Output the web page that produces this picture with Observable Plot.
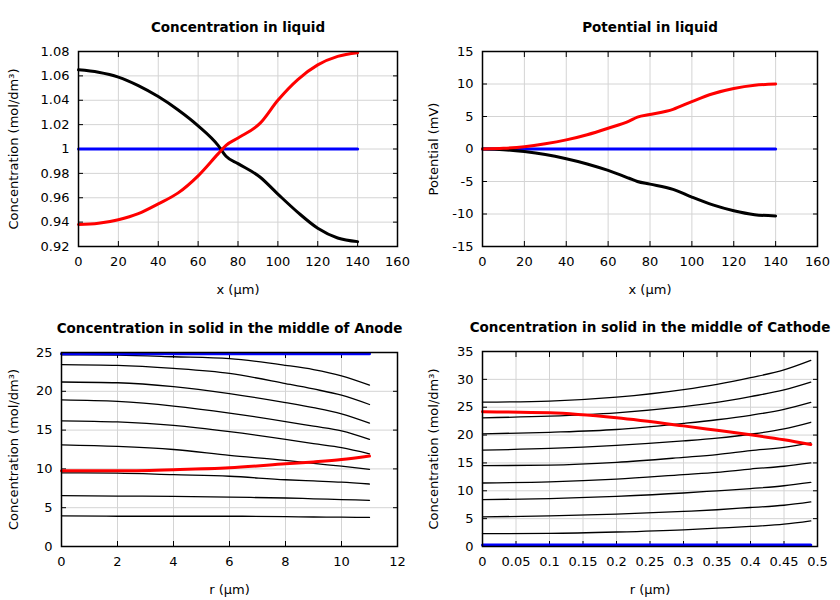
<!DOCTYPE html>
<html><head><meta charset="utf-8">
<script src="https://cdn.jsdelivr.net/npm/d3@7"></script>
<script src="https://cdn.jsdelivr.net/npm/@observablehq/plot@0.6"></script>
<style>
body{margin:0;background:#fff;}
#wrap{position:relative;width:840px;height:600px;font-family:"DejaVu Sans",sans-serif;}
#wrap svg{position:absolute;}
</style></head><body><div id="wrap"></div>
<script>
// ---------- Panel 1: Concentration in liquid ----------
const xLiquid = [0,10,20,30,40,50,60,70,74,80,91,100,110,120,130,140];
const concLiquidBlack = [1.065,1.063,1.059,1.052,1.043,1.032,1.019,1.003,0.994,0.988,0.977,0.963,0.948,0.935,0.927,0.924];
const concLiquidRed   = [0.938,0.939,0.942,0.947,0.955,0.964,0.978,0.996,1.003,1.009,1.021,1.040,1.057,1.069,1.076,1.079];
const concLiquidBlue  = [1,1,1,1,1,1,1,1,1,1,1,1,1,1,1,1];
const xTicksLiquid = [0,20,40,60,80,100,120,140,160];
const yTicksConc = [0.92,0.94,0.96,0.98,1,1.02,1.04,1.06,1.08];

// ---------- Panel 2: Potential in liquid ----------
const potRed   = [0,0.1,0.35,0.8,1.4,2.2,3.2,4.3,4.9,5.3,6.1,7.3,8.5,9.3,9.8,10.0];
const potBlack = [0,-0.1,-0.4,-0.85,-1.5,-2.3,-3.3,-4.5,-5.0,-5.4,-6.2,-7.4,-8.6,-9.5,-10.1,-10.3];
const potBlue  = [0,0,0,0,0,0,0,0,0,0,0,0,0,0,0,0];
const yTicksPot = [-15,-10,-5,0,5,10,15];

// ---------- Panel 3: Concentration in solid, anode ----------
const rAnode = [0,2,4,6,8,9,10,11];
const anodeBlack = [
  [24.7,24.65,24.45,24.2,23.35,22.8,22.0,20.8],
  [23.45,23.35,22.95,22.3,21.0,20.3,19.5,18.3],
  [21.2,21.1,20.6,19.7,18.55,17.9,17.1,15.9],
  [18.9,18.7,18.1,17.2,16.1,15.5,14.9,13.8],
  [16.2,16.05,15.6,14.8,13.8,13.25,12.75,11.95],
  [13.1,12.9,12.5,11.75,11.1,10.7,10.35,9.95],
  [9.5,9.45,9.25,9.05,8.6,8.45,8.3,8.05],
  [6.55,6.5,6.45,6.35,6.25,6.15,6.05,5.95],
  [3.95,3.9,3.9,3.9,3.85,3.8,3.78,3.75]
];
const anodeRed  = [9.75,9.75,9.9,10.15,10.65,10.9,11.2,11.65];
const anodeBlue = [24.85,24.85,24.85,24.85,24.85,24.85,24.85,24.85];
const xTicksAnode = [0,2,4,6,8,10,12];
const yTicksAnode = [0,5,10,15,20,25];

// ---------- Panel 4: Concentration in solid, cathode ----------
const rCathode = [0,0.1,0.2,0.3,0.35,0.4,0.45,0.49];
const cathodeBlack = [
  [2.3,2.35,2.6,3.0,3.3,3.6,4.0,4.6],
  [5.3,5.5,5.8,6.3,6.6,7.0,7.4,8.0],
  [8.4,8.6,9.0,9.6,10.0,10.4,10.9,11.5],
  [11.4,11.6,12.1,12.9,13.3,13.9,14.4,15.0],
  [14.5,14.6,15.1,16.0,16.5,17.2,17.8,18.6],
  [17.3,17.6,18.15,18.95,19.45,20.15,21.1,22.3],
  [20.2,20.5,21.0,22.1,22.75,23.55,24.6,25.85],
  [23.1,23.4,24.0,25.1,25.85,26.9,28.1,29.5],
  [25.9,26.1,26.8,28.15,29.1,30.3,31.7,33.4]
];
const cathodeRed  = [24.2,24.0,23.1,21.65,20.85,20.05,19.15,18.3];
const cathodeBlue = [0.25,0.25,0.25,0.25,0.25,0.25,0.25,0.25];
const xTicksCathode = [0,0.05,0.1,0.15,0.2,0.25,0.3,0.35,0.4,0.45,0.5];
const yTicksCathode = [0,5,10,15,20,25,30,35];

const titles = ["Concentration in liquid","Potential in liquid","Concentration in solid in the middle of Anode","Concentration in solid in the middle of Cathode"];
const yLabels = ["Concentration (mol/dm³)","Potential (mV)","Concentration (mol/dm³)","Concentration (mol/dm³)"];
const xLabels = ["x (µm)","x (µm)","r (µm)","r (µm)"];

const toRows = (xs, ys, s) => xs.map((x, i) => ({x, y: ys[i], s}));

const fmt = d => String(d);

function panel(o) {
  const {left, top, width, height, m, xDomain, xTicks, yDomain, yTicks, title, xLabel, yLabel, yLabelDx, lines} = o;
  const svg = Plot.plot({
    width, height,
    marginTop: m[0], marginRight: m[1], marginBottom: m[2], marginLeft: m[3],
    style: {fontFamily: "DejaVu Sans, sans-serif", fontSize: "13px", color: "black", background: "white", overflow: "visible"},
    x: {domain: xDomain},
    y: {domain: yDomain},
    marks: [
      Plot.gridX(xTicks, {stroke: "#d4d4d4", strokeOpacity: 1, strokeWidth: 1}),
      Plot.gridY(yTicks, {stroke: "#d4d4d4", strokeOpacity: 1, strokeWidth: 1}),
      Plot.axisX(xTicks, {anchor: "bottom", tickSize: 0, tickPadding: 10, tickFormat: fmt, label: null}),
      Plot.axisY(yTicks, {anchor: "left", tickSize: 0, tickPadding: 9, tickFormat: fmt, label: null}),
      Plot.axisX(xTicks, {anchor: "bottom", tickSize: -5, fill: "none", label: null}),
      Plot.axisX(xTicks, {anchor: "top", tickSize: -5, fill: "none", label: null}),
      Plot.axisY(yTicks, {anchor: "left", tickSize: -5, fill: "none", label: null}),
      Plot.axisY(yTicks, {anchor: "right", tickSize: -5, fill: "none", label: null}),
      ...lines,
      Plot.frame({stroke: "black", strokeWidth: 1.5}),
      Plot.text([title], {text: d => d, frameAnchor: "top", dy: -24, textAnchor: "middle", lineAnchor: "middle", fontWeight: "bold", fontSize: 13.5}),
      Plot.text([xLabel], {text: d => d, frameAnchor: "bottom", dy: 43, textAnchor: "middle", lineAnchor: "middle", fontSize: 13}),
      Plot.text([yLabel], {text: d => d, frameAnchor: "left", dx: yLabelDx, rotate: -90, textAnchor: "middle", lineAnchor: "middle", fontSize: 13})
    ]
  });
  svg.style.left = left + "px";
  svg.style.top = top + "px";
  document.getElementById("wrap").appendChild(svg);
}

const curve = (rows, color, w) => Plot.line(rows, {x: "x", y: "y", z: "s", stroke: color, strokeWidth: w, curve: "monotone-x"});

panel({
  left: 0, top: 0, width: 420, height: 300, m: [51, 23, 54, 78],
  xDomain: [0,160], xTicks: xTicksLiquid, yDomain: [0.92,1.08], yTicks: yTicksConc,
  title: titles[0], xLabel: xLabels[0], yLabel: yLabels[0], yLabelDx: -65,
  lines: [
    curve(toRows(xLiquid, concLiquidBlue, "b"), "#0000ff", 3),
    curve(toRows(xLiquid, concLiquidBlack, "k"), "black", 3),
    curve(toRows(xLiquid, concLiquidRed, "r"), "#ff0000", 3)
  ]
});

panel({
  left: 420, top: 0, width: 420, height: 300, m: [51, 23, 54, 62],
  xDomain: [0,160], xTicks: xTicksLiquid, yDomain: [-15,15], yTicks: yTicksPot,
  title: titles[1], xLabel: xLabels[1], yLabel: yLabels[1], yLabelDx: -49,
  lines: [
    curve(toRows(xLiquid, potBlue, "b"), "#0000ff", 3),
    curve(toRows(xLiquid, potBlack, "k"), "black", 3),
    curve(toRows(xLiquid, potRed, "r"), "#ff0000", 3)
  ]
});

panel({
  left: 0, top: 300, width: 420, height: 300, m: [52, 23, 54, 61],
  xDomain: [0,12], xTicks: xTicksAnode, yDomain: [0,25], yTicks: yTicksAnode,
  title: titles[2], xLabel: xLabels[2], yLabel: yLabels[2], yLabelDx: -48,
  lines: [
    curve(anodeBlack.flatMap((ys, k) => toRows(rAnode, ys, "k" + k)), "black", 1.3),
    curve(toRows(rAnode, anodeRed, "r"), "#ff0000", 3),
    curve(toRows(rAnode, anodeBlue, "b"), "#0000ff", 3)
  ]
});

panel({
  left: 420, top: 300, width: 420, height: 300, m: [51, 23, 54, 62],
  xDomain: [0,0.5], xTicks: xTicksCathode, yDomain: [0,35], yTicks: yTicksCathode,
  title: titles[3], xLabel: xLabels[3], yLabel: yLabels[3], yLabelDx: -49,
  lines: [
    curve(cathodeBlack.flatMap((ys, k) => toRows(rCathode, ys, "k" + k)), "black", 1.3),
    curve(toRows(rCathode, cathodeRed, "r"), "#ff0000", 3),
    curve(toRows(rCathode, cathodeBlue, "b"), "#0000ff", 3)
  ]
});
</script></body></html>
